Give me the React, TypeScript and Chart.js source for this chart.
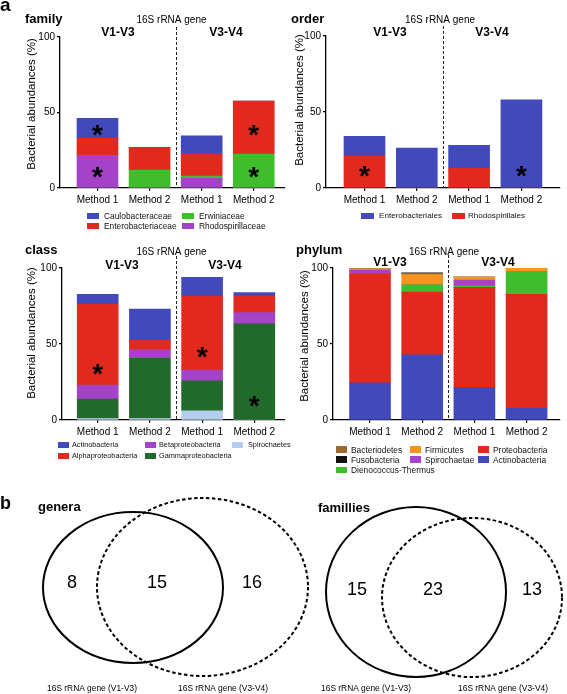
import React, { useEffect, useRef } from 'react';
import { Chart, registerables } from 'chart.js';

Chart.register(...registerables);

const FONT = '"Liberation Sans", Arial, Helvetica, sans-serif';
Chart.defaults.font.family = FONT;
Chart.defaults.color = '#000';

// ---------------- data ----------------
const methodLabels = ['Method 1', 'Method 2', 'Method 1', 'Method 2'];
const regionLabels = ['V1-V3', 'V3-V4'];
const geneLabel = '16S rRNA gene';
const yAxisTitle = 'Bacterial abundances (%)';

// family (bottom -> top of the stack)
const familyRhodospirillaceae = [21.4, 0, 6.4, 0];
const familyErwiniaceae = [0, 11.9, 1.5, 22.5];
const familyEnterobacteriaceae = [11.5, 15.0, 14.6, 35.1];
const familyCaulobacteraceae = [13.3, 0, 12.1, 0];
const familyStars = [[0, 38.4], [0, 10.1], [3, 38.4], [3, 10.1]];

// order
const orderRhodospirillales = [21.1, 0, 12.9, 0];
const orderEnterobacteriales = [12.9, 26.3, 15.2, 58.0];
const orderStars = [[0, 10.7], [3, 10.7]];

// class
const classSpirochaetes = [1.0, 1.0, 6.1, 0];
const classGammaproteobacteria = [12.8, 39.6, 19.6, 63.2];
const classBetaproteobacteria = [9.2, 5.5, 7.2, 7.4];
const classAlphaproteobacteria = [53.3, 6.5, 48.7, 11.0];
const classActinobacteria = [6.4, 20.4, 12.3, 2.2];
const classStars = [[0, 32.9], [2, 44.5], [3, 12.0]];

// phylum
const phylumActinobacteria = [24.5, 42.8, 21.5, 7.7];
const phylumProteobacteria = [71.8, 41.4, 65.8, 75.0];
const phylumDeinococcusThermus = [0, 4.8, 1.0, 14.7];
const phylumSpirochaetae = [2.4, 0, 3.8, 0];
const phylumFirmicutes = [0.8, 6.6, 2.0, 2.6];
const phylumBacteroidetes = [0, 0.8, 0, 0];
const phylumFusobacteria = [0, 0.4, 0, 0];

// venn
const vennSetLabels = ['16S rRNA gene (V1-V3)', '16S rRNA gene (V3-V4)'];
const generaCounts = [8, 15, 16];
const familiesCounts = [15, 23, 13];

// ---------------- colours ----------------
const C = {
  blue: '#4149bb',
  red: '#e2291e',
  green: '#3fbd2c',
  purple: '#a543c8',
  darkGreen: '#226a2c',
  lightBlue: '#b3cdea',
  orange: '#f7941e',
  brown: '#9b6a2d',
  black: '#111111',
};

type Series = { label: string; data: number[]; color: string };

const familySeries: Series[] = [
  { label: 'Rhodospirillaceae', data: familyRhodospirillaceae, color: C.purple },
  { label: 'Erwiniaceae', data: familyErwiniaceae, color: C.green },
  { label: 'Enterobacteriaceae', data: familyEnterobacteriaceae, color: C.red },
  { label: 'Caulobacteraceae', data: familyCaulobacteraceae, color: C.blue },
];
const orderSeries: Series[] = [
  { label: 'Rhodospirillales', data: orderRhodospirillales, color: C.red },
  { label: 'Enterobacteriales', data: orderEnterobacteriales, color: C.blue },
];
const classSeries: Series[] = [
  { label: 'Spirochaetes', data: classSpirochaetes, color: C.lightBlue },
  { label: 'Gammaproteobacteria', data: classGammaproteobacteria, color: C.darkGreen },
  { label: 'Betaproteobacteria', data: classBetaproteobacteria, color: C.purple },
  { label: 'Alphaproteobacteria', data: classAlphaproteobacteria, color: C.red },
  { label: 'Actinobacteria', data: classActinobacteria, color: C.blue },
];
const phylumSeries: Series[] = [
  { label: 'Actinobacteria', data: phylumActinobacteria, color: C.blue },
  { label: 'Proteobacteria', data: phylumProteobacteria, color: C.red },
  { label: 'Dienococcus-Thermus', data: phylumDeinococcusThermus, color: C.green },
  { label: 'Spirochaetae', data: phylumSpirochaetae, color: C.purple },
  { label: 'Firmicutes', data: phylumFirmicutes, color: C.orange },
  { label: 'Bacteriodetes', data: phylumBacteroidetes, color: C.brown },
  { label: 'Fusobacteria', data: phylumFusobacteria, color: C.black },
];

// ---------------- layout ----------------
type Box = { left: number; top: number; width: number; height: number };
interface BarCfg {
  box: Box;
  axisX: number; y100: number; y0: number; xRight: number;
  xMin: number; xMax: number;
  series: Series[];
  stars: number[][];
  title: string; titleX: number; titleY: number;
  yTitleX: number; yTitleY: number;
  geneX: number; geneY: number;
  regionX: number[]; regionY: number;
  dashTop: number;
}

const familyCfg: BarCfg = {
  box: { left: 0, top: 0, width: 285, height: 212 },
  axisX: 60, y100: 37, y0: 188, xRight: 285, xMin: -0.72, xMax: 3.6,
  series: familySeries, stars: familyStars,
  title: 'family', titleX: 25, titleY: 23, yTitleX: 32, yTitleY: 104,
  geneX: 171.5, geneY: 22.5, regionX: [118, 226], regionY: 36, dashTop: 27,
};
const orderCfg: BarCfg = {
  box: { left: 285, top: 0, width: 282, height: 212 },
  axisX: 326, y100: 36, y0: 188, xRight: 560, xMin: -0.736, xMax: 3.738,
  series: orderSeries, stars: orderStars,
  title: 'order', titleX: 291, titleY: 23, yTitleX: 300, yTitleY: 100,
  geneX: 440, geneY: 22.5, regionX: [390, 492], regionY: 36, dashTop: 26,
};
const classCfg: BarCfg = {
  box: { left: 0, top: 230, width: 285, height: 212 },
  axisX: 62, y100: 268, y0: 420, xRight: 285, xMin: -0.684, xMax: 3.588,
  series: classSeries, stars: classStars,
  title: 'class', titleX: 25, titleY: 254, yTitleX: 32, yTitleY: 333,
  geneX: 171.5, geneY: 254.5, regionX: [122, 225], regionY: 269, dashTop: 256,
};
const phylumCfg: BarCfg = {
  box: { left: 285, top: 230, width: 282, height: 212 },
  axisX: 333, y100: 268, y0: 420, xRight: 560, xMin: -0.709, xMax: 3.64,
  series: phylumSeries, stars: [],
  title: 'phylum', titleX: 296, titleY: 254, yTitleX: 305, yTitleY: 336,
  geneX: 444, geneY: 254.5, regionX: [390, 498], regionY: 265.5, dashTop: 255,
};

function BarPanel({ cfg }: { cfg: BarCfg }) {
  const ref = useRef<HTMLCanvasElement>(null);
  const { box } = cfg;
  useEffect(() => {
    const annot = {
      id: 'panelAnnot',
      afterDatasetsDraw(chart: any) {
        const { ctx } = chart;
        const xs = chart.scales.x, ys = chart.scales.y;
        ctx.save();
        ctx.font = `bold 28px ${FONT}`;
        ctx.fillStyle = '#000';
        ctx.textAlign = 'center';
        ctx.textBaseline = 'alphabetic';
        const m = ctx.measureText('*');
        const off = (m.actualBoundingBoxDescent - m.actualBoundingBoxAscent) / 2;
        cfg.stars.forEach(([i, v]) => {
          ctx.fillText('*', xs.getPixelForValue(i), ys.getPixelForValue(v) - off);
        });
        ctx.restore();
      },
      afterDraw(chart: any) {
        const { ctx, chartArea } = chart;
        const xs = chart.scales.x;
        const ox = box.left, oy = box.top;
        ctx.save();
        const dx = Math.round(xs.getPixelForValue(1.5)) + 0.5;
        ctx.strokeStyle = '#222';
        ctx.lineWidth = 1;
        ctx.setLineDash([3, 2]);
        ctx.beginPath();
        ctx.moveTo(dx, cfg.dashTop - oy);
        ctx.lineTo(dx, chartArea.bottom);
        ctx.stroke();
        ctx.setLineDash([]);
        ctx.fillStyle = '#000';
        ctx.textBaseline = 'alphabetic';
        ctx.textAlign = 'left';
        ctx.font = `bold 13px ${FONT}`;
        ctx.fillText(cfg.title, cfg.titleX - ox, cfg.titleY - oy);
        ctx.textAlign = 'center';
        ctx.font = `10px ${FONT}`;
        ctx.fillText(geneLabel, cfg.geneX - ox, cfg.geneY - oy);
        ctx.font = `bold 12px ${FONT}`;
        regionLabels.forEach((r, k) => ctx.fillText(r, cfg.regionX[k] - ox, cfg.regionY - oy));
        ctx.translate(cfg.yTitleX - ox, cfg.yTitleY - oy);
        ctx.rotate(-Math.PI / 2);
        ctx.textBaseline = 'middle';
        ctx.font = `11.5px ${FONT}`;
        ctx.fillText(yAxisTitle, 0, 0);
        ctx.restore();
      },
    };
    const chart = new Chart(ref.current as HTMLCanvasElement, {
      type: 'bar',
      data: {
        datasets: cfg.series.map((s) => ({
          label: s.label,
          data: s.data.map((v, i) => ({ x: i, y: v })),
          backgroundColor: s.color,
          borderWidth: 0,
          barThickness: 41,
        })),
      } as any,
      options: {
        responsive: false,
        animation: false,
        layout: {
          padding: { top: cfg.y100 - box.top, left: 0, bottom: 0, right: box.left + box.width - cfg.xRight },
        },
        plugins: { legend: { display: false }, tooltip: { enabled: false } },
        scales: {
          x: {
            type: 'linear',
            stacked: true,
            offset: false,
            min: cfg.xMin,
            max: cfg.xMax,
            afterBuildTicks: (s: any) => {
              s.ticks = methodLabels.map((_, i) => ({ value: i }));
            },
            afterFit: (s: any) => {
              s.height = box.top + box.height - cfg.y0;
            },
            grid: { offset: false, drawOnChartArea: false, drawTicks: true, tickLength: 3, color: '#000', lineWidth: 1.2 },
            border: { display: true, color: '#000', width: 1.3 },
            ticks: {
              autoSkip: false, maxRotation: 0, minRotation: 0, padding: 3,
              font: { size: 10 }, color: '#000',
              callback: (v: any) => methodLabels[v] ?? '',
            },
          },
          y: {
            type: 'linear',
            stacked: true,
            min: 0,
            max: 100,
            afterFit: (s: any) => {
              s.width = cfg.axisX - box.left;
            },
            grid: { drawOnChartArea: false, drawTicks: true, tickLength: 3, color: '#000', lineWidth: 1.2 },
            border: { display: true, color: '#000', width: 1.3 },
            ticks: { stepSize: 50, padding: 2, font: { size: 10 }, color: '#000' },
          },
        },
      } as any,
      plugins: [annot],
    });
    return () => chart.destroy();
  }, []);
  return (
    <canvas
      ref={ref}
      width={box.width}
      height={box.height}
      style={{ position: 'absolute', left: box.left, top: box.top, width: box.width, height: box.height }}
    />
  );
}

// ---------------- legends ----------------
type LegendItem = { label: string; col: number; row: number };
interface LegendCfg {
  series: Series[];
  items: LegendItem[];
  colBox: number[]; colText: number[]; rows: number[];
  size: number; boxW: number; boxH: number;
}

const familyLegend: LegendCfg = {
  series: familySeries,
  items: [
    { label: 'Caulobacteraceae', col: 0, row: 0 },
    { label: 'Enterobacteriaceae', col: 0, row: 1 },
    { label: 'Erwiniaceae', col: 1, row: 0 },
    { label: 'Rhodospirillaceae', col: 1, row: 1 },
  ],
  colBox: [87, 182], colText: [104, 199], rows: [216, 225.5], size: 8.4, boxW: 12, boxH: 6,
};
const orderLegend: LegendCfg = {
  series: orderSeries,
  items: [
    { label: 'Enterobacteriales', col: 0, row: 0 },
    { label: 'Rhodospirillales', col: 1, row: 0 },
  ],
  colBox: [361, 452], colText: [379, 468], rows: [216], size: 8.1, boxW: 13, boxH: 6,
};
const classLegend: LegendCfg = {
  series: classSeries,
  items: [
    { label: 'Actinobacteria', col: 0, row: 0 },
    { label: 'Alphaproteobacteria', col: 0, row: 1 },
    { label: 'Betaproteobacteria', col: 1, row: 0 },
    { label: 'Gammaproteobacteria', col: 1, row: 1 },
    { label: 'Spirochaetes', col: 2, row: 0 },
  ],
  colBox: [58, 145, 232], colText: [72, 159, 248], rows: [445, 456], size: 7.3, boxW: 11, boxH: 6,
};
const phylumLegend: LegendCfg = {
  series: phylumSeries,
  items: [
    { label: 'Bacteriodetes', col: 0, row: 0 },
    { label: 'Fusobacteria', col: 0, row: 1 },
    { label: 'Dienococcus-Thermus', col: 0, row: 2 },
    { label: 'Firmicutes', col: 1, row: 0 },
    { label: 'Spirochaetae', col: 1, row: 1 },
    { label: 'Proteobacteria', col: 2, row: 0 },
    { label: 'Actinobacteria', col: 2, row: 1 },
  ],
  colBox: [336, 410, 478], colText: [351, 425, 493], rows: [449.5, 459.5, 470], size: 8.4, boxW: 11, boxH: 6.5,
};

function Legend({ cfg }: { cfg: LegendCfg }) {
  return (
    <>
      {cfg.items.map((it) => {
        const s = cfg.series.find((q) => q.label === it.label);
        const y = cfg.rows[it.row];
        return (
          <React.Fragment key={it.label}>
            <div
              style={{
                position: 'absolute', left: cfg.colBox[it.col], top: y - cfg.boxH / 2,
                width: cfg.boxW, height: cfg.boxH, background: s ? s.color : '#000',
              }}
            />
            <div
              style={{
                position: 'absolute', left: cfg.colText[it.col], top: y - 10, height: 20,
                lineHeight: '20px', fontSize: cfg.size, fontFamily: FONT, whiteSpace: 'nowrap', color: '#111',
              }}
            >
              {it.label}
            </div>
          </React.Fragment>
        );
      })}
    </>
  );
}

// ---------------- venn ----------------
type Ellipse = { cx: number; cy: number; rx: number; ry: number; dashed: boolean };
interface VennCfg {
  box: Box;
  title: string; titleX: number; titleY: number;
  counts: number[];
  countPos: number[][];
  ellipses: Ellipse[];
  labelX: number[]; labelY: number;
}

const generaCfg: VennCfg = {
  box: { left: 0, top: 480, width: 320, height: 214 },
  title: 'genera', titleX: 38, titleY: 511,
  counts: generaCounts,
  countPos: [[72, 583.5], [157, 583.5], [252, 583.5]],
  ellipses: [
    { cx: 133, cy: 587.5, rx: 90, ry: 75.5, dashed: false },
    { cx: 202.5, cy: 587, rx: 105.5, ry: 89, dashed: true },
  ],
  labelX: [92, 223], labelY: 689,
};
const familiesCfg: VennCfg = {
  box: { left: 283, top: 480, width: 284, height: 214 },
  title: 'famillies', titleX: 318, titleY: 512,
  counts: familiesCounts,
  countPos: [[357, 590], [433, 590], [532, 590]],
  ellipses: [
    { cx: 416, cy: 592, rx: 90, ry: 85, dashed: false },
    { cx: 472, cy: 597.5, rx: 90, ry: 79.5, dashed: true },
  ],
  labelX: [366, 503], labelY: 689,
};

function VennPanel({ cfg }: { cfg: VennCfg }) {
  const ref = useRef<HTMLCanvasElement>(null);
  const { box } = cfg;
  useEffect(() => {
    const vennPlugin = {
      id: 'venn',
      afterDraw(chart: any) {
        const { ctx } = chart;
        const xs = chart.scales.x, ys = chart.scales.y;
        ctx.save();
        ctx.strokeStyle = '#000';
        ctx.lineWidth = 2;
        cfg.ellipses.forEach((e) => {
          const px = xs.getPixelForValue(e.cx);
          const py = ys.getPixelForValue(e.cy);
          const rx = Math.abs(xs.getPixelForValue(e.cx + e.rx) - px);
          const ry = Math.abs(ys.getPixelForValue(e.cy + e.ry) - py);
          ctx.setLineDash(e.dashed ? [3.5, 2.5] : []);
          ctx.beginPath();
          ctx.ellipse(px, py, rx, ry, 0, 0, Math.PI * 2);
          ctx.stroke();
        });
        ctx.setLineDash([]);
        ctx.fillStyle = '#000';
        const meta = chart.getDatasetMeta(0);
        ctx.font = `18px ${FONT}`;
        ctx.textAlign = 'center';
        ctx.textBaseline = 'middle';
        meta.data.forEach((pt: any, i: number) => {
          ctx.fillText(String(cfg.counts[i]), pt.x, pt.y);
        });
        ctx.font = `8.4px ${FONT}`;
        vennSetLabels.forEach((l, k) => {
          ctx.fillText(l, xs.getPixelForValue(cfg.labelX[k]), ys.getPixelForValue(cfg.labelY));
        });
        ctx.textAlign = 'left';
        ctx.textBaseline = 'alphabetic';
        ctx.font = `bold 13px ${FONT}`;
        ctx.fillText(cfg.title, xs.getPixelForValue(cfg.titleX), ys.getPixelForValue(cfg.titleY));
        ctx.restore();
      },
    };
    const chart = new Chart(ref.current as HTMLCanvasElement, {
      type: 'scatter',
      data: {
        datasets: [
          {
            data: cfg.counts.map((_, i) => ({ x: cfg.countPos[i][0], y: cfg.countPos[i][1] })),
            pointRadius: 0,
          },
        ],
      },
      options: {
        responsive: false,
        animation: false,
        layout: { padding: 0 },
        plugins: { legend: { display: false }, tooltip: { enabled: false } },
        scales: {
          x: { type: 'linear', min: box.left, max: box.left + box.width, display: false },
          y: { type: 'linear', min: box.top, max: box.top + box.height, reverse: true, display: false },
        },
      } as any,
      plugins: [vennPlugin],
    });
    return () => chart.destroy();
  }, []);
  return (
    <canvas
      ref={ref}
      width={box.width}
      height={box.height}
      style={{ position: 'absolute', left: box.left, top: box.top, width: box.width, height: box.height }}
    />
  );
}

function PanelLetter({ text, x, baseline, size }: { text: string; x: number; baseline: number; size: number }) {
  return (
    <div
      style={{
        position: 'absolute', left: x, top: baseline - 0.847 * size, fontSize: size, lineHeight: 1,
        fontWeight: 'bold', fontFamily: FONT, color: '#000',
      }}
    >
      {text}
    </div>
  );
}

export default function App() {
  return (
    <div
      style={{
        position: 'absolute', left: 0, top: 0, width: 567, height: 694, background: '#fff',
        overflow: 'hidden', fontFamily: FONT,
      }}
    >
      <BarPanel cfg={familyCfg} />
      <BarPanel cfg={orderCfg} />
      <BarPanel cfg={classCfg} />
      <BarPanel cfg={phylumCfg} />
      <Legend cfg={familyLegend} />
      <Legend cfg={orderLegend} />
      <Legend cfg={classLegend} />
      <Legend cfg={phylumLegend} />
      <VennPanel cfg={generaCfg} />
      <VennPanel cfg={familiesCfg} />
      <PanelLetter text="a" x={0} baseline={11} size={19} />
      <PanelLetter text="b" x={0} baseline={509} size={18} />
    </div>
  );
}
